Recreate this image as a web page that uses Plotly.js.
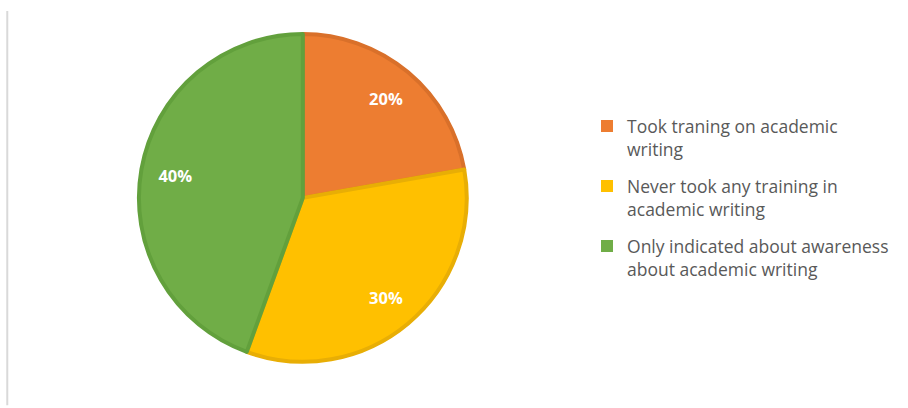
<!DOCTYPE html>
<html>
<head>
<meta charset="utf-8">
<script src="https://cdn.plot.ly/plotly-3.0.1.min.js"></script>
<style>html,body{margin:0;padding:0;background:#fff;}#chart{width:908px;height:408px;}</style>
</head>
<body>
<div id="chart"></div>
<script>
const categories = [
  "Took traning on academic<br>writing",
  "Never took any training in<br>academic writing",
  "Only indicated about awareness<br>about academic writing"
];
const values = [20, 30, 40];
const valueLabels = ["20%", "30%", "40%"];
const fillColors = ["#ED7D31", "#FFC000", "#70AD47"];
const edgeColors = ["#D9702A", "#E8AE05", "#62A03C"];

const pieDomain = {x: [0.153, 0.514], y: [0.113, 0.917]};
const hiddenDomain = {x: [0.333, 0.334], y: [0.515, 0.516]};

// one legend entry per category (own legend group so the groups can be spaced apart);
// these tiny pies sit under the main pie and are fully covered by it
const legendTraces = categories.map((c, i) => ({
  type: "pie",
  labels: [c],
  values: [values[i]],
  textinfo: "none",
  marker: {colors: [fillColors[i]], line: {width: 0}},
  domain: hiddenDomain,
  legendgroup: "g" + i,
  showlegend: true,
  hoverinfo: "none"
}));

// main pie: slices and borders
const basePie = {
  type: "pie",
  labels: categories,
  values: values,
  textinfo: "none",
  sort: false,
  direction: "clockwise",
  rotation: 0,
  marker: {colors: fillColors, line: {color: edgeColors, width: 4}},
  domain: pieDomain,
  showlegend: false,
  hoverinfo: "none"
};

// transparent ring on top that carries the value labels further out
const labelRing = {
  type: "pie",
  labels: categories,
  values: values,
  text: valueLabels,
  textinfo: "text",
  textposition: "inside",
  insidetextorientation: "horizontal",
  textfont: {family: "Open Sans, Lato, sans-serif", size: 16.5, color: "#ffffff", weight: "bold"},
  hole: 0.58,
  sort: false,
  direction: "clockwise",
  rotation: 0,
  showlegend: false,
  marker: {colors: ["rgba(0,0,0,0)", "rgba(0,0,0,0)", "rgba(0,0,0,0)"], line: {width: 0}},
  domain: pieDomain,
  hoverinfo: "none"
};

const layout = {
  width: 908, height: 408,
  margin: {l: 0, r: 0, t: 0, b: 0},
  paper_bgcolor: "#ffffff",
  showlegend: true,
  legend: {
    x: 0.6465, y: 0.735, xanchor: "left", yanchor: "top",
    valign: "top",
    traceorder: "grouped",
    tracegroupgap: 11.5,
    font: {family: "Open Sans, Lato, sans-serif", size: 17.5, color: "#595959"},
    itemwidth: 30
  },
  shapes: [{type: "line", xref: "paper", yref: "paper", x0: 0.008, x1: 0.008, y0: 0.007, y1: 0.973,
            line: {color: "#d9d9d9", width: 2}}]
};

Plotly.newPlot("chart", [...legendTraces, basePie, labelRing], layout, {displayModeBar: false, staticPlot: true});
</script>
</body>
</html>
